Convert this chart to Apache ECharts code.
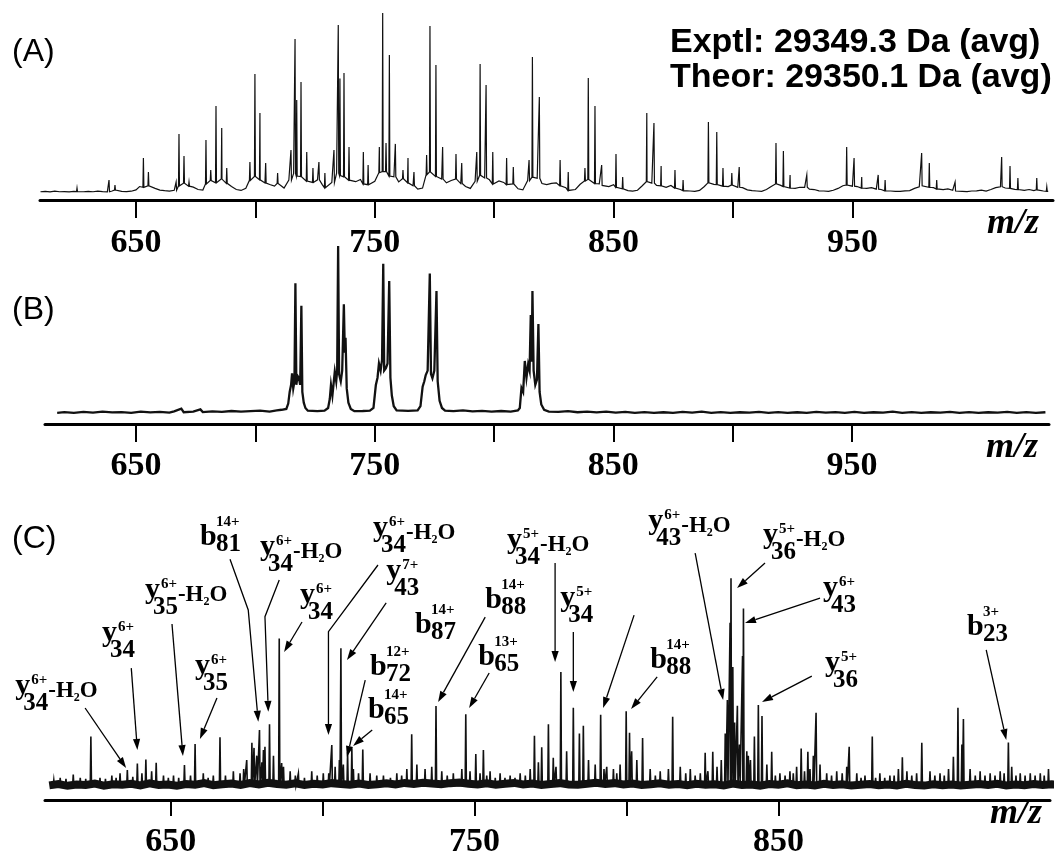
<!DOCTYPE html>
<html>
<head>
<meta charset="utf-8">
<title>Top-down MS spectra</title>
<script src="https://cdn.jsdelivr.net/npm/echarts@6.0.0/dist/echarts.min.js"></script>
<style>
html, body { margin: 0; padding: 0; background: #fff; }
#chart { width: 1062px; height: 857px; }
</style>
</head>
<body>
<div id="chart"></div>
<script>
// ---- (A) full charge state envelope ----
var noiseStartA = 610, noiseStepA = 2;
var noiseA = [
  4.4,4.6,4.3,4.7,4.4,4.5,4.3,4.6,4.5,4.4,
  4.6,4.4,4.7,4.5,4.4,4.8,5.3,4.6,4.5,4.7,
  5.4,7.2,6.8,7.6,6.2,5.3,5.0,4.8,5.2,7.6,
  9.0,7.4,6.9,5.6,5.3,8.6,10.4,9.2,11.2,8.9,
  7.2,5.6,5.1,6.3,10.5,12.6,10.8,9.1,8.3,7.4,
  8.8,6.4,10.6,14.2,12.8,12.5,10.1,9.4,10.8,8.2,
  6.6,9.4,14.4,13.1,12.4,10.6,9.8,11.0,8.6,8.2,
  10.0,14.6,15.2,12.8,12.4,9.7,11.4,9.2,7.6,5.8,
  6.4,13.6,15.0,12.6,11.2,9.2,10.4,11.2,8.8,7.2,
  6.2,10.0,13.2,11.8,10.8,8.6,10.2,9.4,8.2,8.6,
  6.0,5.4,10.4,12.2,11.6,8.8,8.2,8.9,9.2,7.6,
  6.6,5.1,5.6,8.4,10.2,11.0,8.8,8.6,7.8,7.2,
  8.2,6.8,6.0,5.0,4.8,5.2,7.6,9.8,9.0,7.8,
  7.6,6.8,7.8,6.4,5.6,5.0,4.8,4.6,5.1,7.2,
  9.2,8.4,8.2,7.4,7.2,8.0,6.8,6.6,5.4,5.0,
  4.8,4.6,5.6,7.2,8.6,7.8,7.2,6.4,6.2,6.8,
  6.8,5.8,5.6,4.9,4.8,4.6,5.2,6.2,7.6,8.0,
  7.4,7.2,6.4,6.2,6.6,5.8,5.6,4.9,4.8,4.6,
  4.6,4.9,5.0,6.2,7.0,7.6,6.8,6.6,5.9,5.6,
  5.9,5.2,4.8,4.6,4.5,4.8,4.9,5.3,4.8,5.6,
  6.6,7.1,6.4,6.2,5.7,5.6,5.1,5.6,5.0,5.4,
  4.8,4.6
];
var peaksA = [
  [625.3,6.4],[638.7,10.7],[641.2,8.0],[651.7,8.0],[653.1,22.5],[655.2,15.0],
  [666.8,9.6],[668.0,35.3],[670.1,23.5],[672.2,9.6],[679.3,32.1],[681.3,16.0],
  [683.5,50.3],[685.9,38.5],[688.0,17.1],[697.7,20.3],[699.8,67.4],[701.9,46.5],
  [704.3,19.8],[709.3,14.4],[714.9,26.7],[716.6,86.1],[717.3,53.5],[719.1,63.1],
  [721.5,25.7],[724.1,17.1],[726.6,20.3],[729.1,14.4],[732.9,26.7],[734.7,93.6],
  [735.4,65.0],[737.1,67.9],[739.2,28.3],[745.2,25.7],[747.2,18.7],[751.9,28.3],
  [753.3,100],[754.7,30.5],[756.1,77.5],[758.6,30.0],[761.8,16.0],[763.9,22.5],
  [766.4,15.0],[771.7,24.1],[773.1,93.0],[775.6,72.2],[778.4,28.3],[784.0,24.6],
  [786.4,19.8],[792.7,25.7],[794.1,72.7],[796.6,61.5],[799.4,25.7],[805.2,22.5],
  [808.0,17.6],[814.6,21.4],[816.0,76.5],[818.9,55.1],[827.6,21.4],[831.0,15.0],
  [838.0,17.1],[839.4,65.2],[842.2,50.3],[845.0,18.7],[851.0,24.6],[853.8,12.3],
  [863.9,46.5],[866.9,41.2],[869.9,18.2],[875.7,16.0],[879.1,10.7],[889.7,41.7],
  [893.2,36.4],[895.8,17.1],[899.5,14.4],[902.6,17.6],[918.0,30.5],[921.1,26.2],
  [923.9,13.4],[930.9,13.4],[947.6,28.3],[950.7,22.5],[953.9,12.3],[960.8,13.4],
  [963.7,10.7],[979.0,25.1],[982.2,19.8],[985.3,10.7],[993.0,9.6],[1012.5,23.0],
  [1016.0,18.2],[1019.3,11.8],[1027.2,11.8],[1031.4,7.0]
];

// ---- (B) isolated charge states ----
var profileB = [
  [617,6.3],[620,6.7],[624,6.2],[628,6.8],[632,6.4],[636,6.9],[640,6.5],[644,6.7],
  [648,6.3],[652,7.0],[656,6.5],[660,6.8],[664,6.4],[666,7.1],[669,8.6],[670,6.6],
  [674,7.0],[677,8.2],[678,6.7],[682,7.1],[686,6.8],[690,7.3],[694,6.9],[698,7.2],
  [702,7.5],[706,7.0],[709,7.6],[711,8.0],
  [713.0,8.5],[713.8,11.5],[714.4,18],[715.0,22],[715.4,28.5],[715.9,20],[716.4,24],
  [716.8,79],[717.2,22],[717.7,27],[718.3,25.7],[718.8,22],[719.3,66.4],[719.7,18],
  [720.3,12],[721.0,9],[722.0,7.5],[726,7.2],[729,7.5],[730.5,9],[731.2,14],
  [731.7,21.9],[732.3,16],[733.3,29.4],[733.9,24],[734.3,30],[734.7,100],[735.1,28],
  [735.8,24],[736.4,30],[737.1,67.2],[737.5,40],[737.8,48.5],[738.3,20],[739.0,12],
  [740.0,8.5],[741.5,7.2],[745,7.3],[748,7.5],[749.5,9],[750.5,21.9],[751.2,26],
  [751.8,34],[752.5,30],[753.1,36],[753.6,90],[754.0,30],[754.7,31.3],[755.4,34],
  [756.1,80.3],[756.6,26],[757.2,16],[758.0,10],[759.2,7.6],[764,7.4],[768,7.6],
  [769.2,10],[770.1,21],[770.8,24],[771.4,27.5],[772.2,30],[773.1,84.6],[773.6,28],
  [774.2,25.7],[775.0,30],[775.9,74.7],[776.4,24],[777.2,13],[778.2,9],[779.5,7.5],
  [783,7.2],[787,7.6],[791,7.1],[795,7.4],[799,7.0],[803,7.3],[807,7.0],[810,7.6],
  [810.8,9],[811.5,20.2],[812.2,18],[812.9,35.4],[813.6,26],[814.3,33.5],[814.9,30],
  [815.4,61.2],[815.8,35],[816.1,74.7],[816.6,30],[817.3,22],[818.0,25],[818.6,56.2],
  [819.1,18],[819.8,11],[821,8],[823,7],
  [827,6.8],[831,7.2],[835,6.6],[839,7.0],[843,6.5],[847,6.9],[851,6.4],[855,6.8],
  [859,6.3],[863,6.7],[867,6.2],[871,6.6],[875,6.3],[879,6.8],[883,6.4],[887,6.9],
  [891,6.3],[895,6.7],[899,6.2],[903,6.6],[907,6.4],[911,6.8],[915,6.3],[919,6.7],
  [923,6.2],[927,6.6],[931,6.3],[935,6.8],[939,6.4],[943,6.7],[947,6.3],[951,6.8],
  [955,6.2],[959,6.6],[963,6.4],[967,6.9],[971,6.3],[975,6.7],[979,6.2],[983,6.6],
  [987,6.4],[991,6.8],[995,6.3],[999,6.7],[1003,6.2],[1007,6.6],[1011,6.4],[1015,6.8],
  [1019,6.3],[1023,6.7],[1027,6.2],[1031,6.6]
];

// ---- (C) fragment ions ----
var bandStartC = 610, bandStepC = 3, baseC = 6.5;
var bandC = [
  6.6,7.2,6.4,7.0,6.8,7.4,6.5,7.1,6.9,7.3,
  6.6,7.5,6.8,7.0,6.4,7.2,6.9,7.6,6.7,7.1,
  7.4,6.8,7.6,7.0,7.8,7.2,6.9,7.5,6.8,7.3,
  7.0,7.6,7.2,6.9,7.4,6.8,7.1,7.5,7.0,7.7,
  7.2,7.8,7.4,7.1,7.6,7.9,7.3,7.0,7.5,6.9,
  7.3,7.7,7.0,7.4,6.8,7.2,7.6,7.0,6.9,7.3,
  7.8,7.2,7.6,7.0,7.4,6.8,7.1,7.5,6.9,7.2,
  6.7,7.3,6.9,7.1,6.6,7.4,6.8,7.0,6.5,7.2,
  6.9,7.5,6.7,7.0,6.6,7.3,6.8,7.1,6.5,6.9,
  7.2,6.7,7.0,6.6,7.3,6.8,6.5,7.1,6.7,7.0,
  6.6,6.9,7.2,6.8,7.3,6.6,7.0,6.7,7.2,6.8,
  7.1,6.7
];
var peaksC = [
  [611.5,9],[613.6,10],[615.5,9.5],[617.9,11.5],[620.2,10],[622.0,9.5],[623.7,28.6],
  [626.7,10],[628.5,9.5],[630.6,11],[632.0,10],[633.3,12],[635.7,13.5],[637.5,10.5],
  [639.0,16.5],[640.5,12],[641.8,18.3],[643.7,13],[645.2,16.8],[647.6,11],[649.2,10],
  [650.9,11],[652.6,10],[654.5,15.8],[656.5,11],[658.0,25.3],[660.7,12],[662.3,10],
  [664.0,11],[666.2,28.3],[668.0,11],[670.6,13],[672.8,12],[674.0,14],[675.0,18],
  [676.7,25.8],[677.4,23.5],[678.3,20],[679.2,31.6],[680.0,17],[680.5,22.6],[681.0,24],
  [682.5,34.2],[683.8,20],[685.7,72.9],[686.5,16.7],[687.1,15],[689.3,13],[691.0,11],
  [692.0,12],[694.0,10],[696.4,13],[698.2,11],[700.2,12],[702.0,12],[703.0,24.8],
  [704.1,15],[705.5,18],[706.0,68.4],[706.8,16],[708.2,21.5],[709.6,23.3],[710.1,14],
  [711.8,12],[713.2,22.8],[715.6,12],[717.8,11],[720.0,11],[722.3,10],[724.4,12],
  [726.0,11],[727.7,14],[729.3,29.6],[731.0,16],[733.7,14],[735.9,15],[737.3,42.4],
  [739.2,13],[741.0,11],[743.0,12],[745.8,14],[747.1,38.7],[748.5,13],[750.4,20.7],
  [751.8,12],[752.9,22.6],[754.0,11],[755.1,13],[756.8,10],[758.4,12],[760.0,10],
  [761.7,11],[763.3,10],[765.0,12],[766.7,11],[768.3,14],[769.7,29],[771.0,17],
  [772.1,23.8],[774.3,34.2],[775.9,19],[776.8,15],[778.4,57.7],[780.3,22],[782.5,41.6],
  [784.5,30],[785.8,33.5],[787.5,18],[789.7,16],[791.5,38.5],[792.6,14],[793.5,15],
  [795.7,14],[796.8,12],[797.9,16],[799.9,40],[801.0,30.3],[801.7,22],[803.4,18],
  [805.3,28],[807.8,14],[809.5,11],[811.1,13],[813.8,14],[815.2,37.6],[817.7,15],
  [819.5,12],[821.0,14],[822.6,11],[824.3,12],[825.9,21.3],[826.8,13],[828.4,21.8],
  [829.8,15],[831.2,18],[832.5,30],[833.2,45.1],[834.1,80],[834.4,100],[835.0,60],
  [835.6,35],[836.5,42.5],[837.2,25],[838.2,65],[838.5,86.4],[839.6,22],[840.1,20],
  [840.8,18],[842.1,28.6],[843.4,42.9],[844.6,37.9],[846.2,16],[847.8,21.8],[849.0,11],
  [850.5,12],[852.2,11],[853.8,13],[854.9,12],[856.0,15],[857.5,23.2],[858.6,13],
  [859.7,21.8],[860.4,14],[861.5,20],[862.4,39.4],[863.7,16],[865.9,12],[867.5,11],
  [869.2,13],[871.0,12],[872.5,15],[873.3,24],[875.8,12],[877.2,10],[878.5,11],
  [880.9,28.6],[882.0,10],[883.4,12],[885.0,10],[886.7,11],[888.1,11],[889.5,14],
  [890.8,19.3],[892.3,13],[893.9,11],[895.5,12],[897.2,25.8],[899.9,13],[901.5,11],
  [903.2,12],[904.6,11],[906.0,14],[907.6,19.5],[909.1,41.6],[910.4,25],[910.9,36.5],
  [913.1,14],[914.8,11],[916.4,13],[918.0,11],[919.7,12],[921.3,11],[923.0,13],
  [924.3,12],[925.7,25.9],[926.8,15],[928.2,11],[929.6,12],[931.2,11],[932.9,12],
  [934.5,11],[936.2,12],[937.5,11],[938.9,14]
];

// fragment labels: letter, index, charge, water loss, anchor [m/z, intensity]
var ionLetter = ['y','y','y','y','b','y','y','y','y','b','b','b','b','b','y','y','b','y','y','y','y','b'];
var ionIndex  = ['34','34','35','35','81','34','34','34','43','72','65','87','88','65','34','34','88','43','36','43','36','23'];
var ionCharge = ['6+','6+','6+','6+','14+','6+','6+','6+','7+','12+','14+','14+','14+','13+','5+','5+','14+','6+','5+','6+','5+','3+'];
var ionWater  = [1,0,1,0,0,1,0,1,0,0,0,0,0,0,1,0,0,1,1,0,0,0];
var ionAt = [
  [598.8,46.9],[627.4,70.8],[641.5,90.1],[658.0,55.9],[659.6,114.1],[679.4,109.6],
  [692.5,88.0],[716.6,118.2],[720.9,98.8],[715.6,55.5],[714.9,36.1],[730.4,74.4],
  [753.5,85.7],[751.2,60.0],[760.7,112.8],[778.2,86.6],[807.8,58.6],[807.2,121.3],
  [844.9,115.0],[864.7,91.1],[865.3,57.3],[912.1,73.5]
];
var arrowPaths = [
  [[621.8,41.5],[635.3,14.4]],
  [[637.0,59.5],[639.0,22.6]],
  [[650.4,79.4],[654.0,19.8]],
  [[665.2,46.0],[659.6,27.5]],
  [[669.5,108.6],[675.5,85.7],[678.8,35.3]],
  [[685.7,99.2],[681.0,82.7],[682.1,39.8]],
  [[693.2,80.3],[687.3,66.8]],
  [[718.2,106.0],[701.9,75.9],[701.9,29.3]],
  [[720.9,88.9],[708.0,63.1]],
  [[714.0,54.1],[708.0,19.4]],
  [[716.3,31.6],[710.0,24.4]],
  [[753.5,82.5],[738.0,44.2]],
  [[754.8,57.3],[748.2,41.5]],
  [[776.5,106.9],[776.5,62.2]],
  [[782.5,75.8],[782.5,48.7]],
  [[802.5,83.4],[792.3,41.5]],
  [[810.1,55.5],[801.5,41.0]],
  [[822.6,111.4],[831.8,45.1]],
  [[845.6,106.9],[836.4,95.6]],
  [[863.7,91.1],[839.0,79.8]],
  [[861.0,55.9],[844.6,44.2]],
  [[918.4,67.7],[925.0,27.1]]
];

var ticksAB = [650, 700, 750, 800, 850, 900, 950];
var labelsAB = [650, 750, 850, 950];
var ticksC = [650, 700, 750, 800, 850];
var labelsC = [650, 750, 850];

// ---- build line data ----
function byMz(a, b) { return a[0] - b[0]; }
function sticks(peaks, footOf) {
  var out = [];
  peaks.forEach(function (p) {
    var f = footOf(p[0]);
    out.push([p[0] - 0.2, f], [p[0], p[1]], [p[0] + 0.2, f]);
  });
  return out;
}
var lineA = noiseA.map(function (v, i) { return [noiseStartA + i * noiseStepA, v]; })
  .concat(sticks(peaksA, function (mz) {
    return noiseA[Math.round((mz - noiseStartA) / noiseStepA)];
  }))
  .sort(byMz);
var lineC = sticks(peaksC, function () { return baseC; }).sort(byMz);
var bandLineC = bandC.map(function (v, i) { return [bandStartC + i * bandStepC, v]; });

var serif = '"Liberation Serif", "Times New Roman", serif';
var sans = '"Liberation Sans", Arial, sans-serif';

function xAxisFor(grid, min, max, ticks, labels, tickLen, margin) {
  return {
    gridIndex: grid, type: 'value', min: min, max: max,
    axisLine: { show: true, onZero: false, lineStyle: { color: '#000', width: 3 } },
    axisTick: { show: true, customValues: ticks, length: tickLen, lineStyle: { color: '#000', width: 2 } },
    axisLabel: { customValues: labels, margin: margin, color: '#000',
      fontFamily: serif, fontWeight: 'bold', fontSize: 34 },
    splitLine: { show: false }
  };
}
function yAxisFor(grid, max) {
  return { gridIndex: grid, type: 'value', min: 0, max: max, show: false };
}
function lineSeries(idx, data, width, z) {
  return {
    type: 'line', xAxisIndex: idx, yAxisIndex: idx, data: data,
    showSymbol: false, symbol: 'none', silent: true, z: z,
    lineStyle: { color: '#111', width: width, join: 'miter' }
  };
}

function renderArrow(params, api) {
  var pts = arrowPaths[params.dataIndex].map(function (p) { return api.coord(p); });
  var n = pts.length, tip = pts[n - 1], prev = pts[n - 2];
  var dx = tip[0] - prev[0], dy = tip[1] - prev[1];
  var len = Math.sqrt(dx * dx + dy * dy), ux = dx / len, uy = dy / len;
  var L = 11, W = 3.6;
  var base = [tip[0] - ux * L, tip[1] - uy * L];
  return {
    type: 'group',
    children: [
      { type: 'polyline', shape: { points: pts.slice(0, n - 1).concat([base]) },
        style: { stroke: '#000', lineWidth: 1.3, fill: null } },
      { type: 'polygon', shape: { points: [tip, [base[0] - uy * W, base[1] + ux * W], [base[0] + uy * W, base[1] - ux * W]] },
        style: { fill: '#000' } }
    ]
  };
}

function renderIon(params, api) {
  var i = params.dataIndex;
  var p = api.coord(ionAt[i]);
  var x = p[0], yb = p[1];
  var isY = ionLetter[i] === 'y';
  function part(str, dx, dy, size) {
    return {
      type: 'text', x: x + dx, y: yb + dy - 0.3375 * size,
      style: { text: str, font: 'bold ' + size + 'px ' + serif, fill: '#000', align: 'left', verticalAlign: 'middle' }
    };
  }
  var kids = [
    part(ionLetter[i], 0, 0, 30),
    part(ionCharge[i], 16, isY ? -11 : -20, 15),
    part(ionIndex[i], isY ? 8 : 16, isY ? 16 : 6, 25)
  ];
  if (ionWater[i]) {
    kids.push(part('-H', 33, 3, 23), part('2', 58.5, 6, 12), part('O', 64.5, 3, 23));
  }
  return { type: 'group', children: kids };
}

function label(text, x, y, font) {
  return { type: 'text', x: x, y: y, silent: true,
    style: { text: text, font: font, fill: '#000', align: 'left', verticalAlign: 'middle' } };
}

var chart = echarts.init(document.getElementById('chart'), null, { renderer: 'canvas' });
var option = {
  animation: false,
  backgroundColor: '#fff',
  grid: [
    { left: 40, top: 13, width: 1013, height: 187, containLabel: false, outerBoundsMode: 'none' },
    { left: 45, top: 246, width: 1004, height: 178, containLabel: false, outerBoundsMode: 'none' },
    { left: 45, top: 467.45, width: 1005, height: 332.55, containLabel: false, outerBoundsMode: 'none' }
  ],
  xAxis: [
    xAxisFor(0, 609.8, 1034, ticksAB, labelsAB, 18, 26),
    xAxisFor(1, 611.9, 1032.5, ticksAB, labelsAB, 18, 25),
    xAxisFor(2, 608.6, 939.4, ticksC, labelsC, 16, 25)
  ],
  yAxis: [yAxisFor(0, 100), yAxisFor(1, 100), yAxisFor(2, 150)],
  series: [
    lineSeries(0, lineA, 1.2, 2),
    lineSeries(1, profileB, 2.3, 2),
    lineSeries(2, lineC, 1.6, 2),
    lineSeries(2, bandLineC, 8, 3),
    { type: 'custom', xAxisIndex: 2, yAxisIndex: 2, clip: false, silent: true, z: 5,
      data: arrowPaths.map(function (p) { return p[p.length - 1]; }),
      encode: { x: 0, y: 1 }, renderItem: renderArrow },
    { type: 'custom', xAxisIndex: 2, yAxisIndex: 2, clip: false, silent: true, z: 6,
      data: ionAt, encode: { x: 0, y: 1 }, renderItem: renderIon }
  ],
  graphic: [
    label('(A)', 12, 52, '32px ' + sans),
    label('(B)', 12, 310, '32px ' + sans),
    label('(C)', 12, 539, '32px ' + sans),
    label('Exptl: 29349.3 Da (avg)', 670, 43, 'bold 34px ' + sans),
    label('Theor: 29350.1 Da (avg)', 670, 78, 'bold 34px ' + sans),
    label('m/z', 987, 224, 'italic bold 36px ' + serif),
    label('m/z', 986, 448, 'italic bold 36px ' + serif),
    label('m/z', 990, 814, 'italic bold 36px ' + serif)
  ]
};
chart.setOption(option);
</script>
</body>
</html>
